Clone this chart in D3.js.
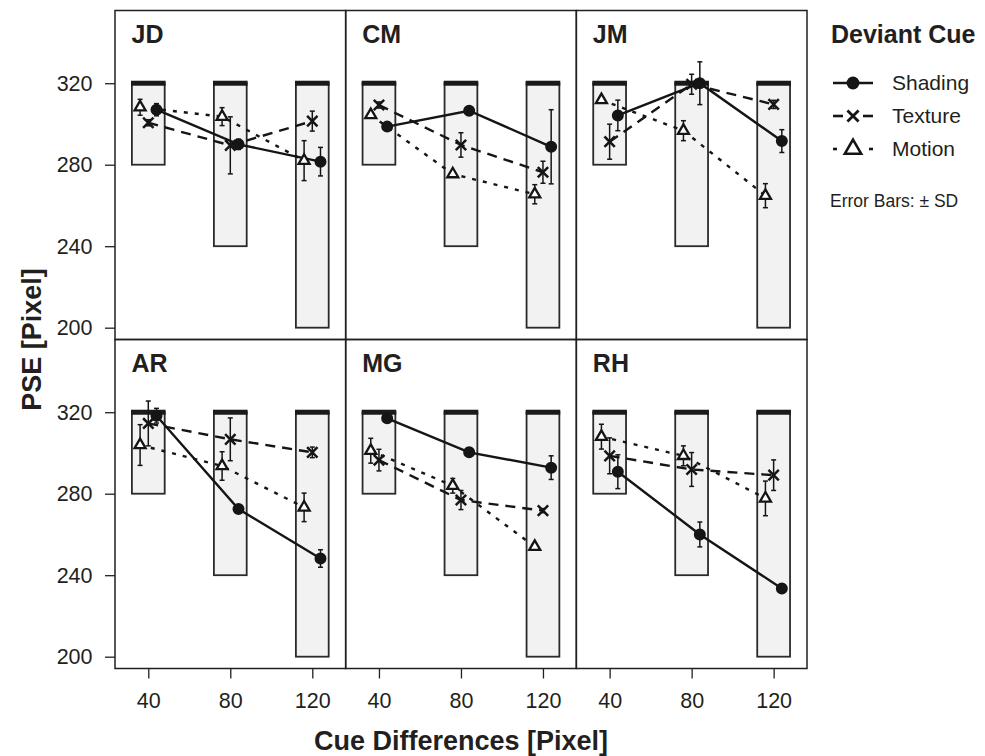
<!DOCTYPE html>
<html>
<head>
<meta charset="utf-8">
<title>PSE by deviant cue</title>
<script src="https://cdn.jsdelivr.net/npm/d3@7"></script>
<style>
    body { margin: 0; background: #fff; }
    text { font-family: "Liberation Sans", Arial, Helvetica, sans-serif; fill: #231f20; }
</style>
</head>
<body>
<svg width="985" height="756"></svg>
<script>
    var subjects = ["JD", "CM", "JM", "AR", "MG", "RH"];
    var cueDiffs = [40, 80, 120];
    var yTicks = [200, 240, 280, 320];

    // tested range for each cue difference (grey boxes)
    var rangeHigh = 320;
    var rangeLow = [280, 240, 200];
    var rangeHalf = 8;

    // PSE and SD, one row per subject, columns = cue differences 40/80/120
    var shadingPSE = [[307, 290, 281.5], [298.7, 306.5, 288.8], [304.2, 320, 291.6],
                      [318.3, 272.5, 248.2], [317, 300.3, 292.8], [290.8, 260, 233.5]];
    var shadingSD  = [[3, 2.5, 7], [1, 1, 18.2], [7.5, 10.5, 5.6],
                      [3.6, 1, 4.3], [2, 1, 5.8], [8.3, 6.1, 1]];
    var texturePSE = [[300.6, 289.5, 301.4], [309.3, 289.7, 276.3], [291.3, 319.5, 309.6],
                      [314.5, 306.7, 300.3], [296.5, 276.9, 271.7], [298.6, 291.9, 289.1]];
    var textureSD  = [[1.5, 14, 4.9], [1.5, 6, 5.4], [8.6, 4.9, 2],
                      [11, 10.5, 2.6], [5.3, 4.7, 1], [8.8, 8.3, 7.5]];
    var motionPSE  = [[308.2, 303.6, 282], [304.4, 275.4, 265.5], [311.8, 296.7, 264.8],
                      [303.9, 293.6, 273.3], [301.1, 283.9, 254], [308, 298.6, 277.7]];
    var motionSD   = [[3.9, 4.4, 9.8], [1, 1, 4.7], [1.5, 4.9, 5.9],
                      [10, 7, 7], [6.1, 3.6, 1], [6.1, 4.9, 8.5]];

    var series = [
        {name: "Shading", pse: shadingPSE, sd: shadingSD, shift: 4, dash: null,
         symbol: d3.symbolCircle, size: 113, fill: "#151515", stroke: "none", sw: 0},
        {name: "Texture", pse: texturePSE, sd: textureSD, shift: 0, dash: "10,7",
         symbol: d3.symbolTimes, size: 72, fill: "none", stroke: "#151515", sw: 2.5},
        {name: "Motion", pse: motionPSE, sd: motionSD, shift: -4, dash: "4,7",
         symbol: d3.symbolTriangle2, size: 87, fill: "#fff", stroke: "#151515", sw: 2.3}
    ];

    var svg = d3.select("svg"),
        plotLeft = 115, plotTop = 10.5,
        pw = 230.67, ph = 329;

    var x = d3.scaleLinear().domain([23.76, 136.28]).range([0, pw]);
    var y = d3.scaleLinear().domain([194.2, 355.7]).range([ph, 0]);

    var line = d3.line()
        .x(function (p) { return x(p.x); })
        .y(function (p) { return y(p.v); });

    function styleAxis(ax) {
        ax.select(".domain").remove();
        ax.selectAll(".tick line").attr("stroke", "#231f20").attr("stroke-width", 1.3);
        ax.selectAll("text").attr("font-size", 21.5);
        ax.attr("font-family", null).attr("font-size", null);
    }

    subjects.forEach(function (name, i) {
        var col = i % 3, row = Math.floor(i / 3);
        var g = svg.append("g")
            .attr("transform", "translate(" + (plotLeft + col * pw) + "," + (plotTop + row * ph) + ")");

        // grey range boxes
        g.selectAll("rect.range")
            .data(cueDiffs)
            .enter().append("rect")
            .attr("class", "range")
            .attr("x", function (d) { return x(d - rangeHalf); })
            .attr("width", function (d) { return x(d + rangeHalf) - x(d - rangeHalf); })
            .attr("y", y(rangeHigh))
            .attr("height", function (d, j) { return y(rangeLow[j]) - y(rangeHigh); })
            .attr("fill", "#f2f2f2")
            .attr("stroke", "#2a2a2a")
            .attr("stroke-width", 1.8);

        // thick bar at the upper end of each range
        g.selectAll("rect.cap")
            .data(cueDiffs)
            .enter().append("rect")
            .attr("class", "cap")
            .attr("x", function (d) { return x(d - rangeHalf) - 0.9; })
            .attr("width", function (d) { return x(d + rangeHalf) - x(d - rangeHalf) + 1.8; })
            .attr("y", y(rangeHigh) - 2.5)
            .attr("height", 5)
            .attr("fill", "#1a1a1a");

        var pts = series.map(function (s) {
            return cueDiffs.map(function (c, j) {
                return {x: c + s.shift, v: s.pse[i][j], sd: s.sd[i][j]};
            });
        });

        // connecting lines
        series.forEach(function (s, k) {
            g.append("path")
                .datum(pts[k])
                .attr("d", line)
                .attr("fill", "none")
                .attr("stroke", "#151515")
                .attr("stroke-width", 2.4)
                .attr("stroke-dasharray", s.dash);
        });

        // error bars
        series.forEach(function (s, k) {
            var eb = g.append("g").selectAll("g")
                .data(pts[k])
                .enter().append("g")
                .attr("stroke", "#151515")
                .attr("stroke-width", 1.5);
            eb.append("line")
                .attr("x1", function (p) { return x(p.x); })
                .attr("x2", function (p) { return x(p.x); })
                .attr("y1", function (p) { return y(p.v - p.sd); })
                .attr("y2", function (p) { return y(p.v + p.sd); });
            [-1, 1].forEach(function (sign) {
                eb.append("line")
                    .attr("x1", function (p) { return x(p.x) - 2.5; })
                    .attr("x2", function (p) { return x(p.x) + 2.5; })
                    .attr("y1", function (p) { return y(p.v + sign * p.sd); })
                    .attr("y2", function (p) { return y(p.v + sign * p.sd); });
            });
        });

        // markers
        series.forEach(function (s, k) {
            g.append("g").selectAll("path")
                .data(pts[k])
                .enter().append("path")
                .attr("transform", function (p) {
                    return "translate(" + x(p.x) + "," + y(p.v) + ")";
                })
                .attr("d", d3.symbol().type(s.symbol).size(s.size))
                .attr("fill", s.fill)
                .attr("stroke", s.stroke)
                .attr("stroke-width", s.sw);
        });

        // panel frame
        g.append("rect")
            .attr("width", pw)
            .attr("height", ph)
            .attr("fill", "none")
            .attr("stroke", "#231f20")
            .attr("stroke-width", 1.5);

        g.append("text")
            .attr("x", 16.5)
            .attr("y", 32)
            .attr("font-size", 25)
            .attr("font-weight", "bold")
            .text(name);

        if (col === 0) {
            g.append("g")
                .call(d3.axisLeft(y).tickValues(yTicks).tickSize(10).tickPadding(12.5))
                .call(styleAxis);
        }
        if (row === 1) {
            g.append("g")
                .attr("transform", "translate(0," + ph + ")")
                .call(d3.axisBottom(x).tickValues(cueDiffs).tickSize(10).tickPadding(14))
                .call(styleAxis);
        }
    });

    // axis titles
    svg.append("text")
        .attr("x", plotLeft + 1.5 * pw)
        .attr("y", 750)
        .attr("text-anchor", "middle")
        .attr("font-size", 27)
        .attr("font-weight", "bold")
        .text("Cue Differences [Pixel]");

    svg.append("text")
        .attr("transform", "translate(41," + (plotTop + ph) + ") rotate(-90)")
        .attr("text-anchor", "middle")
        .attr("font-size", 27)
        .attr("font-weight", "bold")
        .text("PSE [Pixel]");

    // legend
    var legend = svg.append("g").attr("transform", "translate(831,0)");
    legend.append("text")
        .attr("x", 0)
        .attr("y", 43)
        .attr("font-size", 25)
        .attr("font-weight", "bold")
        .text("Deviant Cue");

    series.forEach(function (s, k) {
        var ly = 83 + k * 33;
        var item = legend.append("g").attr("transform", "translate(0," + ly + ")");
        var segs = k === 0 ? [[2, 42]] : k === 1 ? [[2, 12], [32, 42]] : [[2, 6], [38, 42]];
        segs.forEach(function (sg) {
            item.append("line")
                .attr("x1", sg[0]).attr("x2", sg[1])
                .attr("stroke", "#151515")
                .attr("stroke-width", 2.6);
        });
        item.append("path")
            .attr("transform", "translate(22,0)")
            .attr("d", d3.symbol().type(s.symbol).size(k === 2 ? 190 : s.size * 1.15))
            .attr("fill", s.fill)
            .attr("stroke", s.stroke)
            .attr("stroke-width", s.sw + 0.3);
        item.append("text")
            .attr("x", 61)
            .attr("dy", "0.35em")
            .attr("font-size", 21)
            .text(s.name);
    });

    legend.append("text")
        .attr("x", -1)
        .attr("y", 206.5)
        .attr("font-size", 17.5)
        .text("Error Bars: \u00B1 SD");
</script>
</body>
</html>
